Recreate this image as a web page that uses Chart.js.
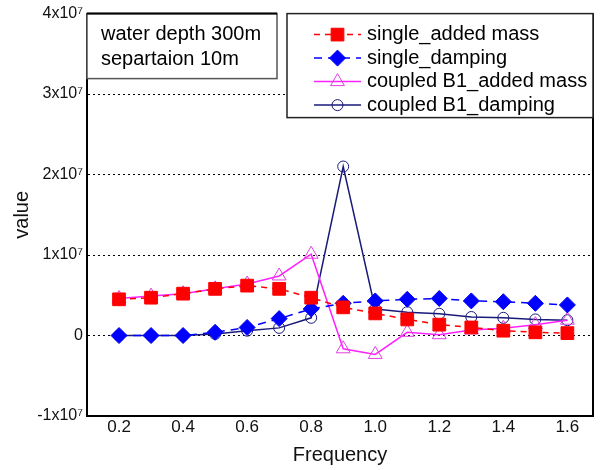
<!DOCTYPE html>
<html>
<head>
<meta charset="utf-8">
<script src="https://cdn.jsdelivr.net/npm/chart.js@4/dist/chart.umd.min.js"></script>
<style>
  body { margin: 0; background: #fff; }
  #wrap { width: 603px; height: 470px; }
</style>
</head>
<body>
<div id="wrap"><canvas id="chart"></canvas></div>
<script>
  // values
  const frequency = [0.2, 0.3, 0.4, 0.5, 0.6, 0.7, 0.8, 0.9, 1.0, 1.1, 1.2, 1.3, 1.4, 1.5, 1.6];
  const singleAddedMass = [4.5e6, 4.7e6, 5.2e6, 5.8e6, 6.2e6, 5.8e6, 4.7e6, 3.5e6, 2.75e6, 2.0e6, 1.35e6, 1.0e6, 0.6e6, 0.4e6, 0.3e6];
  const singleDamping = [0, 0, 0, 0.4e6, 1.0e6, 2.1e6, 3.3e6, 4.0e6, 4.3e6, 4.5e6, 4.6e6, 4.3e6, 4.2e6, 4.0e6, 3.8e6];
  const coupledAddedMass = [4.6e6, 4.9e6, 5.2e6, 5.8e6, 6.4e6, 7.4e6, 10.1e6, -1.65e6, -2.35e6, 0.4e6, 0.1e6, 0.7e6, 0.9e6, 1.35e6, 1.9e6];
  const coupledDamping = [0, 0, 0, 0.2e6, 0.6e6, 0.95e6, 2.2e6, 21.0e6, 3.3e6, 2.9e6, 2.7e6, 2.3e6, 2.2e6, 2.0e6, 1.9e6];

  const xTicks = [0.2, 0.4, 0.6, 0.8, 1.0, 1.2, 1.4, 1.6];
  const yTicks = [-1e7, 0, 1e7, 2e7, 3e7, 4e7];
  const yTickLabels = ["-1x10\u2077", "0", "1x10\u2077", "2x10\u2077", "3x10\u2077", "4x10\u2077"];
  const noteLines = ["water depth 300m", "separtaion 10m"];

  const FONT = "'Liberation Sans', Arial, sans-serif";

  function pts(values) {
    return values.map((v, i) => ({ x: frequency[i], y: v }));
  }

  const datasets = [
    {
      label: "single_added mass",
      data: pts(singleAddedMass),
      borderColor: "#ff0000",
      backgroundColor: "#ff0000",
      borderDash: [6, 5],
      borderWidth: 1.5,
      pointStyle: "rect",
      pointRadius: 9,
      pointBorderWidth: 1,
    },
    {
      label: "single_damping",
      data: pts(singleDamping),
      borderColor: "#0000ff",
      backgroundColor: "#0000ff",
      borderDash: [8, 6],
      borderWidth: 1.5,
      pointStyle: "rectRot",
      pointRadius: 8,
      pointBorderWidth: 1,
    },
    {
      label: "coupled B1_added mass",
      data: pts(coupledAddedMass),
      borderColor: "#ff22ff",
      backgroundColor: "rgba(0,0,0,0)",
      pointBorderColor: "#e040e0",
      borderWidth: 1.5,
      pointStyle: "triangle",
      pointRadius: 8,
      pointBorderWidth: 1,
    },
    {
      label: "coupled B1_damping",
      data: pts(coupledDamping),
      borderColor: "#1a1a7a",
      backgroundColor: "rgba(0,0,0,0)",
      borderWidth: 1.5,
      pointStyle: "circle",
      pointRadius: 5.5,
      pointBorderWidth: 1,
    },
  ];

  // boxes, frame and legend drawn on top of the chart
  const overlay = {
    id: "overlay",
    afterDraw(chart) {
      const ctx = chart.ctx;
      const area = chart.chartArea;
      ctx.save();

      // right frame line
      ctx.strokeStyle = "#000";
      ctx.lineWidth = 2;
      ctx.beginPath();
      ctx.moveTo(area.right, area.top);
      ctx.lineTo(area.right, area.bottom);
      ctx.stroke();

      // note box
      ctx.fillStyle = "#fff";
      ctx.fillRect(area.left, area.top, 190, 65);
      ctx.strokeStyle = "#555";
      ctx.lineWidth = 1.5;
      ctx.strokeRect(area.left, area.top, 190, 65);
      ctx.strokeStyle = "#000";
      ctx.lineWidth = 2;
      ctx.beginPath();
      ctx.moveTo(area.left, area.top);
      ctx.lineTo(area.left + 190, area.top);
      ctx.stroke();
      ctx.fillStyle = "#000";
      ctx.font = "20px " + FONT;
      ctx.textBaseline = "middle";
      noteLines.forEach((t, i) => ctx.fillText(t, area.left + 14, area.top + 21 + i * 25));

      // legend box
      const lx = 287, ly = area.top, lw = area.right - lx, lh = 104;
      ctx.fillStyle = "#fff";
      ctx.fillRect(lx, ly, lw, lh);
      ctx.strokeStyle = "#222";
      ctx.lineWidth = 1.5;
      ctx.strokeRect(lx, ly, lw, lh);

      chart.data.datasets.forEach((ds, i) => {
        const y = ly + 21 + i * 23.5;
        ctx.save();
        ctx.strokeStyle = ds.borderColor;
        ctx.lineWidth = ds.borderWidth;
        ctx.setLineDash(ds.borderDash || []);
        ctx.beginPath();
        ctx.moveTo(314, y);
        ctx.lineTo(361, y);
        ctx.stroke();
        ctx.setLineDash([]);
        ctx.fillStyle = ds.backgroundColor;
        ctx.strokeStyle = ds.pointBorderColor || ds.borderColor;
        ctx.lineWidth = ds.pointBorderWidth;
        Chart.helpers.drawPoint(ctx, {
          pointStyle: ds.pointStyle,
          radius: ds.pointRadius,
          rotation: 0,
          borderWidth: ds.pointBorderWidth,
        }, 337.5, y);
        ctx.restore();
        ctx.fillStyle = "#000";
        ctx.font = "20px " + FONT;
        ctx.textBaseline = "middle";
        ctx.fillText(ds.label, 367, y);
      });

      ctx.restore();
    },
  };

  new Chart(document.getElementById("chart"), {
    type: "line",
    data: { datasets: datasets },
    plugins: [overlay],
    options: {
      responsive: true,
      maintainAspectRatio: false,
      animation: false,
      layout: { padding: { top: 12, right: 2, left: 0, bottom: 0 } },
      plugins: {
        legend: { display: false },
        tooltip: { enabled: false },
      },
      scales: {
        x: {
          type: "linear",
          min: 0.1,
          max: 1.68,
          afterBuildTicks: axis => { axis.ticks = xTicks.map(v => ({ value: v })); },
          afterFit: s => { s.height = 54; },
          grid: { display: false, drawTicks: false },
          border: { display: true, color: "#000", width: 2 },
          ticks: {
            padding: 1,
            color: "#111",
            font: { family: FONT, size: 17 },
            callback: v => v.toFixed(1),
          },
          title: {
            display: true,
            text: "Frequency",
            color: "#111",
            font: { family: FONT, size: 20 },
            padding: { top: 0, bottom: 3 },
          },
        },
        y: {
          min: -1e7,
          max: 4e7,
          afterBuildTicks: axis => { axis.ticks = yTicks.map(v => ({ value: v })); },
          afterFit: s => { s.width = 87; },
          grid: {
            drawTicks: false,
            color: c => (c.tick && c.tick.value >= 0 && c.tick.value <= 3e7) ? "#000" : "rgba(0,0,0,0)",
            lineWidth: 1,
          },
          border: { display: true, color: "#000", width: 2, dash: [2, 3] },
          ticks: {
            padding: 4,
            color: "#111",
            font: { family: FONT, size: 16 },
            callback: (v, i) => yTickLabels[yTicks.indexOf(v)],
          },
          title: {
            display: true,
            text: "value",
            color: "#111",
            font: { family: FONT, size: 20 },
            padding: { top: 10, bottom: 0 },
          },
        },
      },
    },
  });
</script>
</body>
</html>
